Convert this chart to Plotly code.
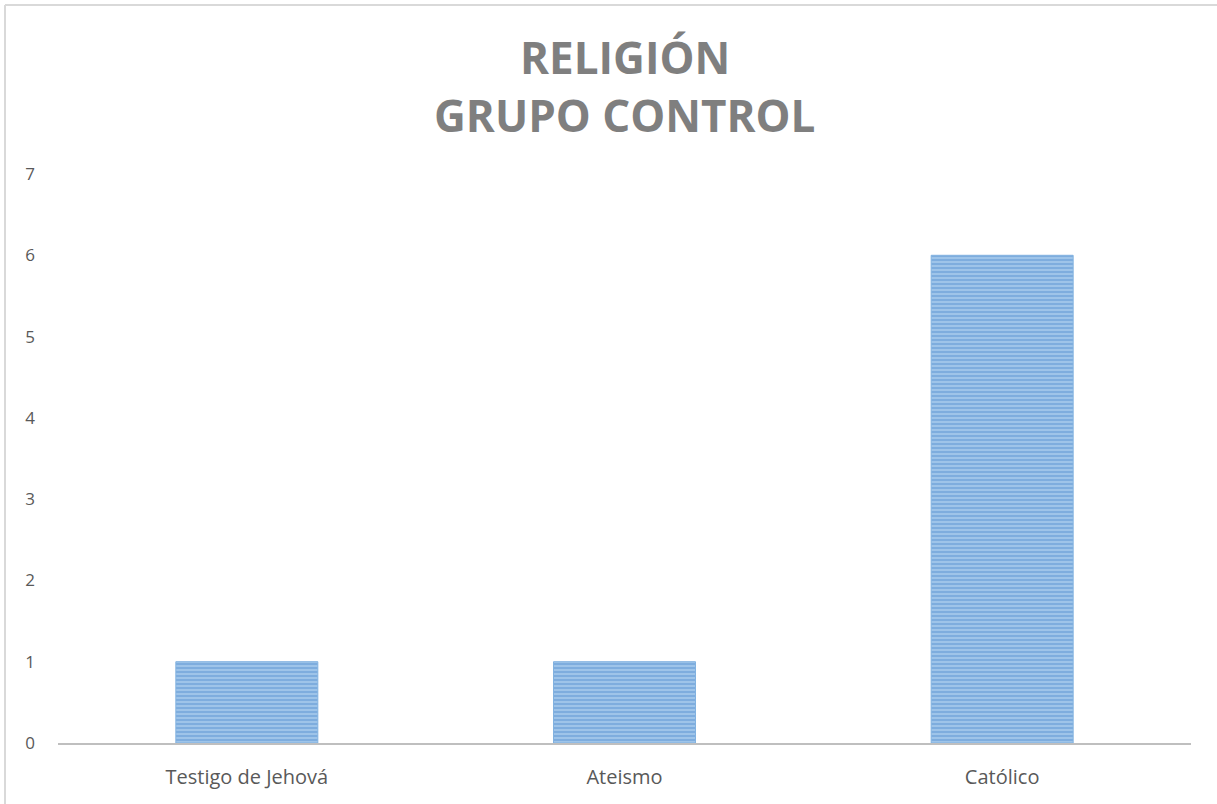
import plotly.graph_objects as go

categories = ["Testigo de Jehová", "Ateismo", "Católico"]
values = [1, 1, 6]
title_lines = ["RELIGIÓN", "GRUPO CONTROL"]
y_ticks = [0, 1, 2, 3, 4, 5, 6, 7]

W, H = 1217, 804
L, R, T, B = 58, 26, 174, 61
pw, ph = W - L - R, H - T - B

def px_x(px):
    return (px - L) / pw

def px_y(py):
    return (H - B - py) / ph

fig = go.Figure(go.Bar(
    x=categories, y=values,
    marker=dict(
        color="#9fc5ea",
        line=dict(color="#82b2e0", width=1),
        pattern=dict(shape="-", fgcolor="#5592d0", bgcolor="#a6c9ec", size=4, solidity=0.6),
    ),
    hoverinfo="x+y",
))

font_fam = "Open Sans, Lato, sans-serif"

fig.update_layout(
    width=W, height=H,
    margin=dict(l=L, r=R, t=T, b=B, pad=0),
    paper_bgcolor="white", plot_bgcolor="white",
    showlegend=False,
    bargap=0.624,
    font=dict(family=font_fam, color="#595959", size=16),
    xaxis=dict(
        showline=True, linecolor="#bfbfbf", linewidth=2,
        showgrid=False, ticks="", ticklabelstandoff=15,
        tickfont=dict(size=20, color="#595959"),
        fixedrange=True,
    ),
    yaxis=dict(
        range=[0, 7], tickvals=y_ticks, showgrid=False, zeroline=False,
        showline=False, ticks="", ticklabelstandoff=22,
        tickfont=dict(size=17, color="#595959"),
        fixedrange=True,
    ),
    annotations=[
        dict(text=f"<b>{title_lines[0]}</b>", x=0.5, y=px_y(57), xref="paper", yref="paper",
             xanchor="center", yanchor="middle", showarrow=False,
             font=dict(size=44, color="#7f7f7f", family=font_fam)),
        dict(text=f"<b>{title_lines[1]}</b>", x=0.5, y=px_y(115), xref="paper", yref="paper",
             xanchor="center", yanchor="middle", showarrow=False,
             font=dict(size=44, color="#7f7f7f", family=font_fam)),
    ],
    shapes=[
        dict(type="line", xref="paper", yref="paper", x0=px_x(5), x1=px_x(1230),
             y0=px_y(5), y1=px_y(5), line=dict(color="#d9d9d9", width=2)),
        dict(type="line", xref="paper", yref="paper", x0=px_x(5), x1=px_x(5),
             y0=px_y(5), y1=px_y(820), line=dict(color="#d9d9d9", width=2)),
    ],
)

fig.write_html("out.html")
